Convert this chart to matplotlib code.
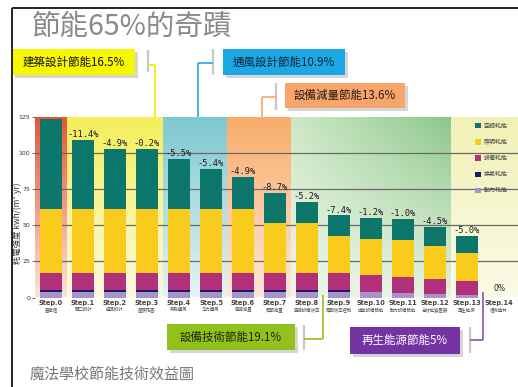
import numpy as np
import matplotlib
matplotlib.use("Agg")
import matplotlib.pyplot as plt
from matplotlib.colors import to_rgb
from matplotlib.patches import Rectangle, Patch

CJK = ['Noto Sans CJK TC', 'DejaVu Sans']
plt.rcParams['font.family'] = CJK

# ---------------- data ----------------
steps = ['Step.0', 'Step.1', 'Step.2', 'Step.3', 'Step.4', 'Step.5', 'Step.6', 'Step.7',
         'Step.8', 'Step.9', 'Step.10', 'Step.11', 'Step.12', 'Step.13', 'Step.14']
sub_labels = ['基準值', '開口設計', '遮陽設計', '屋頂花園', '風扇通風', '浮力通風', '空調減量',
              '照明減量', '空調設備效率', '照明效率控制', '換氣設備節能', '動力設備節能',
              '高效能變壓器', '再生能源', '植物造林']
power = [4.0, 4.0, 4.0, 4.0, 4.0, 4.0, 4.0, 4.0, 4.0, 4.0, 3.8, 3.0, 2.4, 2.0, 0]      # 動力耗能
vent = [1.2, 1.2, 1.2, 1.2, 1.2, 1.2, 1.2, 1.2, 1.2, 1.2, 0, 0, 0, 0, 0]               # 換氣耗能
equip = [11.6, 11.6, 11.6, 11.6, 11.6, 11.6, 11.6, 11.6, 11.6, 11.6, 11.8, 11.5, 10.4, 9.3, 0]  # 設備耗能
light = [44.2, 44.2, 44.2, 44.2, 44.2, 44.2, 44.2, 34.4, 34.4, 25.8, 25.1, 25.1, 23.1, 19.5, 0]  # 照明耗能
aircon = [62.4, 48.0, 42.0, 41.8, 34.8, 28.0, 22.1, 21.2, 14.6, 14.1, 14.6, 14.6, 12.9, 11.6, 0]  # 空調耗能
pct_labels = ['', '-11.4%', '-4.9%', '-0.2%', '-5.5%', '-5.4%', '-4.9%', '-8.7%', '-5.2%',
              '-7.4%', '-1.2%', '-1.0%', '-4.5%', '-5.0%', '0%']
legend_labels = ['空調耗能', '照明耗能', '設備耗能', '換氣耗能', '動力耗能']
y_ticks = [0, 25, 50, 75, 100, 125]
callouts = ['建築設計節能16.5%', '通風設計節能10.9%', '設備減量節能13.6%',
            '設備技術節能19.1%', '再生能源節能5%']

col_air = '#0d766b'
col_light = '#f8cb1c'
col_equip = '#b2307a'
col_vent = '#1d1b68'
col_power = '#a991c9'

# ---------------- figure ----------------
W, H = 518, 387
fig = plt.figure(figsize=(W / 100, H / 100), dpi=100)
fig.patch.set_facecolor('white')

ax_l, ax_r = 35, 518
y_top, y_zero = 116.7, 297.5
ax = fig.add_axes([ax_l / W, 1 - y_zero / H, (ax_r - ax_l) / W, (y_zero - y_top) / H], zorder=2)
XMIN, XMAX = -0.5, (518 - 51) / 32.0
YMAX = 125


def band(x0, x1, top, bottom, top_left=None, bottom_left=None):
    n = 64
    t = np.linspace(0, 1, n)[:, None, None]
    top = np.array(to_rgb(top)); bottom = np.array(to_rgb(bottom))
    if top_left is None:
        img = bottom + (top - bottom) * t
        img = np.repeat(img, 2, axis=1)
    else:
        tl = np.array(to_rgb(top_left)); bl = np.array(to_rgb(bottom_left))
        s = np.linspace(0, 1, n)[None, :, None]
        tcol = tl + (top - tl) * s
        bcol = bl + (bottom - bl) * s
        img = bcol + (tcol - bcol) * t
    ax.imshow(np.clip(img, 0, 1), extent=[x0, x1, 0, YMAX], origin='lower', aspect='auto',
              zorder=0, interpolation='bilinear')


band(-0.5, 0.5, '#e6553a', '#fbe3d8')
band(0.5, 3.5, '#f4ef5a', '#fcf9de')
band(3.5, 5.5, '#7ec8d2', '#e4f3f4')
band(5.5, 7.5, '#f9ac6c', '#fde7d6')
band(7.5, 12.5, '#8dc78b', '#e6f2df', top_left='#cde8c7', bottom_left='#eef7ea')
band(12.5, XMAX, '#f1f1b6', '#fbfbe7')

for yv in [25, 50, 75, 100]:
    ax.axhline(yv, color='#6a6a6a', lw=0.9, zorder=1)

x = np.arange(len(steps))
bw = 0.66
bottom = np.zeros(len(steps))
for vals, c in [(power, col_power), (vent, col_vent), (equip, col_equip),
                (light, col_light), (aircon, col_air)]:
    ax.bar(x, vals, bw, bottom=bottom, color=c, zorder=3, linewidth=0)
    bottom += np.array(vals)

for i, lab in enumerate(pct_labels):
    if not lab:
        continue
    if lab == '0%':
        ax.text(x[i], bottom[i] + 3.0, lab, ha='center', va='bottom', fontsize=5.5,
                color='#222222', family='DejaVu Sans', zorder=4)
    else:
        ax.text(x[i], bottom[i] + 0.6, lab, ha='center', va='bottom', fontsize=6.3,
                color='#1a1a1a', family='DejaVu Sans Mono', zorder=4)

ax.set_xlim(XMIN, XMAX)
ax.set_ylim(0, YMAX)
for s in ax.spines.values():
    s.set_visible(False)
ax.set_yticks(y_ticks)
ax.set_yticklabels([str(v) for v in y_ticks], fontsize=4.5, color='#333333', family='DejaVu Sans')
ax.tick_params(axis='y', length=2, width=0.6, color='#555555', pad=1.5)
ax.set_xticks(x)
ax.set_xticklabels(steps, fontsize=4.8, fontweight='bold', color='#444444', family='DejaVu Sans')
ax.tick_params(axis='x', length=0, pad=2)
for i, s in enumerate(sub_labels):
    ax.text(x[i], -0.068, s, transform=ax.get_xaxis_transform(), ha='center', va='center',
            fontsize=3.2, color='#555555')

ax.set_ylabel('耗電強度 kwh/(m².yr)', fontsize=6, color='#333333')
ax.yaxis.set_label_coords(-0.027, 0.41)

handles = [Patch(facecolor=c, edgecolor='none') for c in [col_air, col_light, col_equip, col_vent, col_power]]
leg = ax.legend(handles, legend_labels, loc='upper left', bbox_to_anchor=(475 / W, 1 - 123 / H),
                bbox_transform=fig.transFigure, frameon=False, fontsize=4.3, handlelength=1.0,
                handleheight=1.0, handletextpad=0.5, labelspacing=1.75, borderpad=0, borderaxespad=0)
for t in leg.get_texts():
    t.set_color('#444444')

# ---------------- decorations overlay ----------------
deco = fig.add_axes([0, 0, 1, 1], zorder=5)
deco.set_xlim(0, W)
deco.set_ylim(H, 0)
deco.axis('off')
deco.patch.set_alpha(0)

# frame lines
deco.plot([12, 518], [8, 8], color='#222222', lw=1.4, solid_capstyle='butt')
deco.plot([12, 12], [8, 387], color='#222222', lw=1.4, solid_capstyle='butt')

deco.text(32, 27, '節能65%的奇蹟', ha='left', va='center', fontsize=20.5, color='#8a8a8a',
          fontweight='light')
deco.text(30, 374, '魔法學校節能技術效益圖', ha='left', va='center', fontsize=10.8, color='#777777')


def box(x0, y0, x1, y1, fc, text, tc):
    deco.add_patch(Rectangle((x0 + 3, y0 + 3), x1 - x0, y1 - y0, facecolor='#b5b5b5',
                             edgecolor='none', alpha=0.55))
    deco.add_patch(Rectangle((x0, y0), x1 - x0, y1 - y0, facecolor=fc, edgecolor='none'))
    deco.text((x0 + x1) / 2, (y0 + y1) / 2, text, ha='center', va='center', fontsize=8.3, color=tc)


def connector(gx, gy0, gy1, hy, vx, vy_end, color):
    deco.plot([gx, gx], [gy0, gy1], color='#c8c8c8', lw=1.6, solid_capstyle='butt')
    deco.plot([gx, vx], [hy, hy], color=color, lw=1.2, solid_capstyle='butt')
    deco.plot([vx, vx], [hy, vy_end], color=color, lw=1.2, solid_capstyle='butt')


box(12, 49, 135, 75, '#f7f700', callouts[0], '#111111')
connector(148, 50, 72, 65, 155, 117, '#f2ea00')
box(223, 49, 345, 75, '#1ca8e4', callouts[1], '#10233a')
connector(213, 49, 75, 63, 198, 117, '#1ca8e4')
box(285, 83, 405, 108, '#f6a56c', callouts[2], '#2a1a10')
connector(276, 83, 110, 97, 262, 117, '#f6a56c')
box(167, 324, 295, 350, '#92c11e', callouts[3], '#1a2a05')
connector(304, 325, 350, 339, 323, 295, '#92c11e')
box(350, 327, 460, 354, '#7433a3', callouts[4], '#ffffff')
connector(470, 327, 353, 340, 483, 292, '#8a4fc0')

fig.savefig('out.png', dpi=100)
